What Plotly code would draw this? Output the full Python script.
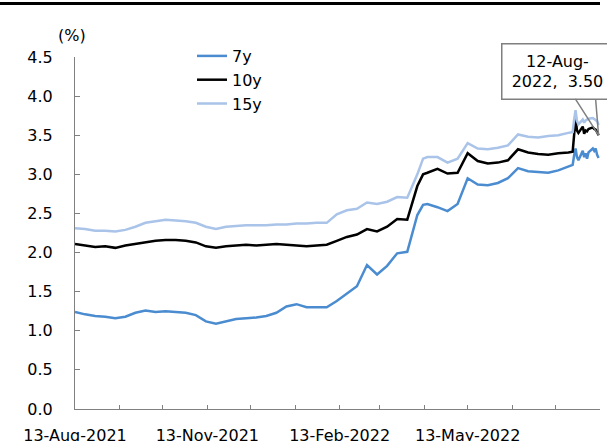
import plotly.graph_objects as go
import pandas as pd

# Weekly readings (plus daily ones at the end of July / August 2022)
dates = [
    "2021-08-13", "2021-08-20", "2021-08-27", "2021-09-03", "2021-09-10", "2021-09-17",
    "2021-09-24", "2021-10-01", "2021-10-08", "2021-10-15", "2021-10-22", "2021-10-29",
    "2021-11-05", "2021-11-12", "2021-11-19", "2021-11-26", "2021-12-03", "2021-12-10",
    "2021-12-17", "2021-12-24", "2021-12-31", "2022-01-07", "2022-01-14", "2022-01-21",
    "2022-01-28", "2022-02-04", "2022-02-11", "2022-02-18", "2022-02-25", "2022-03-04",
    "2022-03-11", "2022-03-18", "2022-03-25", "2022-04-01", "2022-04-08", "2022-04-12",
    "2022-04-15", "2022-04-22", "2022-04-29", "2022-05-06", "2022-05-13", "2022-05-20",
    "2022-05-27", "2022-06-03", "2022-06-10", "2022-06-17", "2022-06-24", "2022-07-01",
    "2022-07-08", "2022-07-15", "2022-07-22", "2022-07-25", "2022-07-26", "2022-07-27",
    "2022-07-28", "2022-07-29", "2022-08-01", "2022-08-02", "2022-08-03", "2022-08-04",
    "2022-08-05", "2022-08-08", "2022-08-09", "2022-08-10", "2022-08-11", "2022-08-12",
]

y7 = [
    1.24, 1.21, 1.19, 1.18, 1.16, 1.18,
    1.23, 1.26, 1.24, 1.25, 1.24, 1.23,
    1.20, 1.12, 1.09, 1.12, 1.15, 1.16,
    1.17, 1.19, 1.23, 1.31, 1.34, 1.30,
    1.30, 1.30, 1.38, 1.48, 1.57, 1.84,
    1.72, 1.83, 1.99, 2.01, 2.48, 2.61,
    2.62, 2.58, 2.53, 2.62, 2.95, 2.87,
    2.86, 2.89, 2.95, 3.08, 3.04, 3.03,
    3.02, 3.05, 3.10, 3.12, 3.24, 3.33,
    3.22, 3.18, 3.30, 3.22, 3.27, 3.20,
    3.28, 3.33, 3.30, 3.33, 3.25, 3.21,
]

y10 = [
    2.11, 2.09, 2.07, 2.08, 2.06, 2.09,
    2.11, 2.13, 2.15, 2.16, 2.16, 2.15,
    2.13, 2.08, 2.06, 2.08, 2.09, 2.10,
    2.09, 2.10, 2.11, 2.10, 2.09, 2.08,
    2.09, 2.10, 2.15, 2.20, 2.23, 2.30,
    2.27, 2.33, 2.43, 2.42, 2.85, 3.00,
    3.02, 3.07, 3.01, 3.02, 3.27, 3.17,
    3.14, 3.15, 3.18, 3.32, 3.28, 3.26,
    3.25, 3.27, 3.28, 3.29, 3.50, 3.72,
    3.56, 3.53, 3.61, 3.52, 3.56, 3.55,
    3.58, 3.60, 3.58, 3.57, 3.54, 3.50,
]

y15 = [
    2.31, 2.30, 2.28, 2.28, 2.27, 2.29,
    2.33, 2.38, 2.40, 2.42, 2.41, 2.40,
    2.38, 2.33, 2.30, 2.33, 2.34, 2.35,
    2.35, 2.35, 2.36, 2.36, 2.37, 2.37,
    2.38, 2.38, 2.49, 2.54, 2.56, 2.64,
    2.62, 2.65, 2.71, 2.70, 3.00, 3.20,
    3.22, 3.22, 3.15, 3.20, 3.40, 3.33,
    3.32, 3.34, 3.37, 3.51, 3.48, 3.47,
    3.49, 3.50, 3.53, 3.54, 3.70, 3.82,
    3.68, 3.64, 3.70, 3.66, 3.69, 3.70,
    3.71, 3.72, 3.71, 3.70, 3.68, 3.63,
]

series_names = ["7y", "10y", "15y"]
series_colors = ["#4a8ccf", "#000000", "#a9c3e9"]

font_family = "DejaVu Sans"

x = pd.to_datetime(dates)

fig = go.Figure()
for name, vals, color in zip(series_names, [y7, y10, y15], series_colors):
    fig.add_trace(go.Scatter(
        x=x, y=vals, name=name, mode="lines",
        line=dict(color=color, width=2.5),
    ))

# monthly ticks on the 13th, labelled every third month
tick_dates = pd.date_range("2021-08-01", "2022-08-01", freq="MS") + pd.Timedelta(days=12)
tick_text = [d.strftime("%d-%b-%Y") if (i % 3 == 0 and i < 12) else "" for i, d in enumerate(tick_dates)]

# paper spans pixels 0..409 vertically; plot area top sits at pixel 57
top_px, bot_px = 0, 409
paper_h = bot_px - top_px
def py(p):
    return (bot_px - p) / paper_h

fig.update_layout(
    width=607, height=441,
    margin=dict(l=0, r=7, t=top_px, b=441 - bot_px, pad=0, autoexpand=False),
    paper_bgcolor="white", plot_bgcolor="white",
    font=dict(family=font_family, size=16, color="black"),
    showlegend=True,
    legend=dict(
        x=0.32, y=py(39), xanchor="left", yanchor="top",
        bgcolor="rgba(0,0,0,0)", font=dict(size=16),
        itemwidth=30, tracegroupgap=0,
    ),
    xaxis=dict(
        type="date", range=["2021-08-13", "2022-08-13"],
        domain=[75 / 600, 1],
        tickvals=list(tick_dates), ticktext=tick_text,
        ticks="inside", ticklen=4, tickcolor="#808080",
        showline=True, linecolor="#808080", linewidth=1,
        showgrid=False, zeroline=False,
        ticklabelstandoff=12,
        tickfont=dict(size=16),
    ),
    yaxis=dict(
        range=[0, 4.5], dtick=0.5, tickformat=".1f",
        domain=[0, py(57)],
        ticks="inside", ticklen=5, tickcolor="#808080",
        showline=True, linecolor="#808080", linewidth=1,
        showgrid=False, zeroline=False,
        ticklabelstandoff=18,
        tickfont=dict(size=16),
    ),
)

# unit label
fig.add_annotation(
    text="(%)", xref="paper", yref="paper", x=72 / 600, y=py(35),
    xanchor="center", yanchor="middle", showarrow=False, font=dict(size=16),
)

# callout on the last 10y reading
last_date = x[-1]
last_val = y10[-1]
label = f"{last_date.strftime('%d-%b-')}<br>{last_date.strftime('%Y')},\u00a0 {last_val:.2f}"
fig.add_annotation(
    x=last_date, y=last_val, text=label,
    showarrow=True, arrowhead=0, arrowwidth=1.5, arrowcolor="#7f7f7f",
    ax=-41, ay=-64,
    bordercolor="#7f7f7f", borderwidth=1.5, borderpad=7, bgcolor="white",
    width=96, font=dict(size=16, color="black"),
)
fig.add_shape(
    type="line", xref="x", yref="y",
    xsizemode="pixel", ysizemode="pixel",
    xanchor=last_date, yanchor=last_val,
    x0=-3, y0=37, x1=0, y1=0,
    line=dict(color="#7f7f7f", width=1.5),
)

# heavy rule across the top
fig.add_shape(
    type="rect", xref="paper", yref="paper",
    x0=0, x1=1, y0=py(5), y1=py(2),
    fillcolor="black", line=dict(width=0),
)

# drop the browser's default page margin so the chart sits at the window corner
fig.write_html(
    "out.html",
    config={"displayModeBar": False},
    post_script="document.body.style.margin='0px';",
)
